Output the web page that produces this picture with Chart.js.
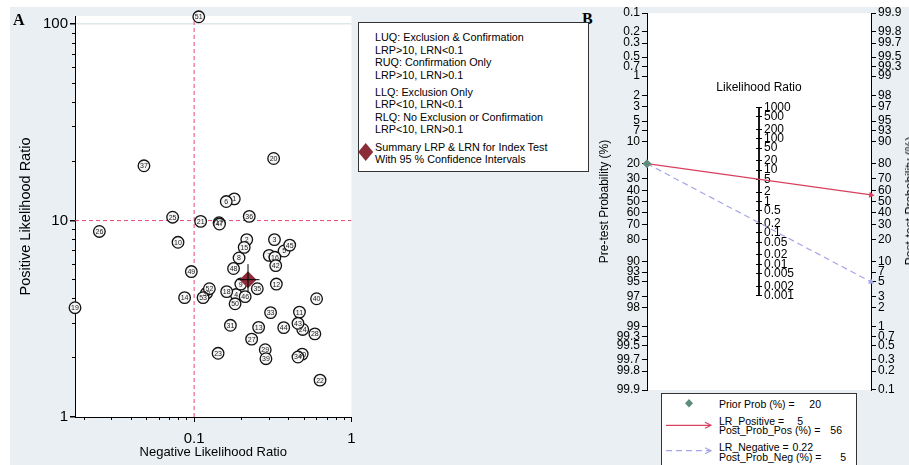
<!DOCTYPE html>
<html>
<head>
<meta charset="utf-8">
<script src="https://cdn.jsdelivr.net/npm/chart.js@4.4.1/dist/chart.umd.min.js"></script>
<style>
  html, body { margin: 0; padding: 0; }
  body { width: 909px; height: 465px; overflow: hidden; position: relative; background: #fff;
         font-family: "Liberation Sans", Arial, sans-serif; color: #000; }
  .abs { position: absolute; white-space: nowrap; }
  #bg { left: 10px; top: 7px; width: 899px; height: 458px; background: #e9eff2; }
  canvas { position: absolute; }
  .panel { font-family: "Liberation Serif", "Times New Roman", serif; font-weight: bold;
           font-size: 16px; line-height: 16px; }
  .key { position: absolute; background: #fff; border: 1px solid #333; box-sizing: border-box; }
  .key span { position: absolute; white-space: nowrap; }
  #keyA span { left: 16px; font-size: 10.8px; line-height: 13px; }
  #keyB span { font-size: 10.5px; line-height: 11px; }
</style>
</head>
<body>
<div id="bg" class="abs"></div>
<canvas id="sroc" width="350" height="458" style="left:10px;top:7px"></canvas>
<canvas id="fagan" width="314" height="458" style="left:595px;top:7px"></canvas>

<div class="abs panel" style="left:13px;top:12px">A</div>
<div class="abs panel" style="left:582px;top:11px">B</div>

<!-- quadrant key for the likelihood ratio scatter -->
<div id="keyA" class="key" style="left:358px;top:22px;width:231px;height:150px">
  <span style="top:7.5px">LUQ: Exclusion &amp; Confirmation</span>
  <span style="top:20.5px">LRP&gt;10, LRN&lt;0.1</span>
  <span style="top:33.2px">RUQ: Confirmation Only</span>
  <span style="top:45.5px">LRP&gt;10, LRN&gt;0.1</span>
  <span style="top:62.5px">LLQ: Exclusion Only</span>
  <span style="top:75.2px">LRP&lt;10, LRN&lt;0.1</span>
  <span style="top:87.8px">RLQ: No Exclusion or Confirmation</span>
  <span style="top:99.8px">LRP&lt;10, LRN&gt;0.1</span>
  <span style="top:117.5px">Summary LRP &amp; LRN for Index Test</span>
  <span style="top:129.5px">With 95 % Confidence Intervals</span>
</div>
<svg class="abs" style="left:356px;top:142px" width="20" height="20">
  <polygon points="9.7,1 17.2,10 9.7,19 2.2,10" fill="#8b2d38"/>
</svg>

<div class="abs" style="left:759px;top:87px;transform:translate(-50%,-50%);font-size:12px;line-height:14px">Likelihood Ratio</div>
<div class="abs" style="left:910px;top:201px;transform:translate(-50%,-50%) rotate(-90deg);font-size:12px;line-height:14px">Post-test Probability (%)</div>

<!-- nomogram key -->
<div id="keyB" class="key" style="left:661px;top:393px;width:196px;height:80px">
  <span style="left:57px;top:4.8px">Prior Prob (%) =</span>
  <span style="right:35px;top:4.8px">20</span>
  <span style="left:57px;top:21.5px">LR_Positive =</span>
  <span style="right:53px;top:21.5px">5</span>
  <span style="left:57px;top:30.8px">Post_Prob_Pos (%) =</span>
  <span style="right:14px;top:30.8px">56</span>
  <span style="left:57px;top:47.5px">LR_Negative =</span>
  <span style="right:43px;top:47.5px">0.22</span>
  <span style="left:57px;top:58.2px">Post_Prob_Neg (%) =</span>
  <span style="right:10px;top:58.2px">5</span>
</div>
<svg class="abs" style="left:661px;top:393px" width="60" height="72">
  <polygon points="28,6 32,10.3 28,14.6 24,10.3" fill="#5e8d7c"/>
  <line x1="5" y1="32.3" x2="49" y2="32.3" stroke="#d9405f" stroke-width="1.2"/>
  <polyline points="44,29.3 50,32.3 44,35.3" fill="none" stroke="#d9405f" stroke-width="1.2"/>
  <line x1="5" y1="57.7" x2="49" y2="57.7" stroke="#a4a4e8" stroke-width="1.2" stroke-dasharray="6,4"/>
  <polyline points="44,54.7 50,57.7 44,60.7" fill="none" stroke="#a4a4e8" stroke-width="1.2"/>
</svg>

<script>
// ---------- Panel A: positive vs negative likelihood ratio per study ----------
const STUDY_IDS = [1, 2, 3, 4, 5, 6, 7, 8, 9, 10,
                   11, 12, 13, 14, 15, 16, 17, 18, 19, 20,
                   21, 22, 23, 24, 25, 26, 27, 28, 29, 30,
                   31, 32, 33, 34, 35, 36, 37, 39, 40, 42,
                   43, 44, 45, 46, 47, 48, 49, 50, 51, 52, 53];
const STUDY_LRN = [0.18, 0.216, 0.324, 0.185, 0.373, 0.16, 0.30, 0.193, 0.198, 0.079,
                   0.467, 0.333, 0.257, 0.087, 0.208, 0.326, 0.144, 0.161, 0.0175, 0.32,
                   0.11, 0.631, 0.142, 0.49, 0.073, 0.025, 0.232, 0.585, 0.283, 0.486,
                   0.17, 0.12, 0.306, 0.457, 0.252, 0.224, 0.048, 0.286, 0.60, 0.33,
                   0.457, 0.371, 0.405, 0.211, 0.145, 0.178, 0.096, 0.182, 0.107, 0.125, 0.114];
const STUDY_LRP = [12.9, 8.0, 8.0, 4.2, 7.0, 12.5, 6.65, 6.45, 4.75, 7.75,
                   3.42, 4.75, 2.86, 4.05, 7.3, 6.5, 9.75, 4.35, 3.6, 20.7,
                   9.9, 1.54, 2.11, 2.79, 10.4, 8.8, 2.49, 2.65, 2.2, 2.09,
                   2.93, 4.27, 3.4, 2.02, 4.5, 10.5, 19.0, 1.98, 4.0, 5.9,
                   3.0, 2.85, 7.5, 4.1, 9.6, 5.7, 5.5, 3.77, 109, 4.5, 4.05];

// pooled estimate and its 95% confidence limits
const LR_POS = 5;
const LR_NEG = 0.22;
const LR_POS_CI = [4.3, 6.0];
const LR_NEG_CI = [0.19, 0.26];

// quadrant cut-offs
const CUT_LRP = 10;
const CUT_LRN = 0.1;

const LRN_RANGE = [0.0175, 1];
const LRP_RANGE = [1, 110];
const LRN_TICKS = [0.1, 1];
const LRN_MINOR = [0.02, 0.03, 0.04, 0.05, 0.06, 0.07, 0.08, 0.09,
                   0.2, 0.3, 0.4, 0.5, 0.6, 0.7, 0.8, 0.9];
const LRP_TICKS = [1, 10, 100];
const LRP_MINOR = [2, 3, 4, 5, 6, 7, 8, 9, 20, 30, 40, 50, 60, 70, 80, 90];

// ---------- Panel B: Fagan nomogram ----------
const PROB_TICKS = [0.1, 0.2, 0.3, 0.5, 0.7, 1, 2, 3, 5, 7, 10, 20, 30, 40, 50,
                    60, 70, 80, 90, 93, 95, 97, 98, 99, 99.3, 99.5, 99.7, 99.8, 99.9];
const LR_TICKS = [0.001, 0.002, 0.005, 0.01, 0.02, 0.05, 0.1, 0.2, 0.5, 1,
                  2, 5, 10, 20, 50, 100, 200, 500, 1000];
const PRIOR_PROB = 20;
const POST_PROB_POS = 56;
const POST_PROB_NEG = 5;

Chart.defaults.font.family = '"Liberation Sans", Arial, sans-serif';
Chart.defaults.color = '#000';

const plotBackground = {
  id: 'plotBackground',
  beforeDraw(chart) {
    const { ctx, chartArea: a } = chart;
    ctx.save();
    ctx.fillStyle = '#ffffff';
    ctx.fillRect(a.left, a.top, a.right - a.left, a.bottom - a.top);
    ctx.restore();
  }
};

// study numbers written inside their circles
const studyNumbers = {
  id: 'studyNumbers',
  afterDatasetDraw(chart, args) {
    if (chart.data.datasets[args.index].label !== 'Studies') return;
    const ctx = chart.ctx;
    ctx.save();
    ctx.font = '7px "Liberation Sans", Arial, sans-serif';
    ctx.fillStyle = '#222';
    ctx.textAlign = 'center';
    ctx.textBaseline = 'middle';
    args.meta.data.forEach((pt, i) => ctx.fillText(String(STUDY_IDS[i]), pt.x, pt.y + 0.5));
    ctx.restore();
  }
};

const fixSize = (prop, size) => (s) => {
  s[prop] = size;
  s.paddingTop = 0; s.paddingBottom = 0; s.paddingLeft = 0; s.paddingRight = 0;
};

new Chart(document.getElementById('sroc'), {
  type: 'scatter',
  data: {
    datasets: [
      { label: 'CI LRN', data: [{ x: LR_NEG_CI[0], y: LR_POS }, { x: LR_NEG_CI[1], y: LR_POS }],
        showLine: true, borderColor: '#000', borderWidth: 1, pointRadius: 0 },
      { label: 'CI LRP', data: [{ x: LR_NEG, y: LR_POS_CI[0] }, { x: LR_NEG, y: LR_POS_CI[1] }],
        showLine: true, borderColor: '#000', borderWidth: 1, pointRadius: 0 },
      { label: 'Summary', data: [{ x: LR_NEG, y: LR_POS }],
        pointStyle: 'rectRot', pointRadius: 8.5, backgroundColor: '#8b2d38', borderColor: '#8b2d38',
        borderWidth: 0 },
      { label: 'Studies', data: STUDY_LRN.map((v, i) => ({ x: v, y: STUDY_LRP[i] })),
        pointStyle: 'circle', pointRadius: 5.8, borderWidth: 1.3, borderColor: '#111',
        backgroundColor: '#f6f6f6', clip: false },
      { label: 'LRN cut', data: [{ x: CUT_LRN, y: LRP_RANGE[0] }, { x: CUT_LRN, y: LRP_RANGE[1] }],
        showLine: true, borderColor: '#e5486f', borderWidth: 1, borderDash: [4, 3], pointRadius: 0 },
      { label: 'LRP cut', data: [{ x: LRN_RANGE[0], y: CUT_LRP }, { x: LRN_RANGE[1], y: CUT_LRP }],
        showLine: true, borderColor: '#e5486f', borderWidth: 1, borderDash: [4, 3], pointRadius: 0 }
    ]
  },
  options: {
    responsive: false,
    animation: false,
    events: [],
    layout: { padding: { top: 9, right: 6, bottom: 0, left: 0 } },
    plugins: { legend: { display: false }, tooltip: { enabled: false } },
    scales: {
      x: {
        type: 'logarithmic', position: 'bottom', weight: 1,
        min: LRN_RANGE[0], max: LRN_RANGE[1],
        afterBuildTicks: (s) => { s.ticks = LRN_TICKS.map(v => ({ value: v })); },
        afterFit: fixSize('height', 48),
        ticks: { autoSkip: false, maxRotation: 0, font: { size: 15 }, color: '#000', padding: 8,
                 callback: (v, i) => String(LRN_TICKS[i]) },
        grid: { drawOnChartArea: false, color: '#000', tickLength: 5 },
        border: { color: '#000', width: 1 },
        title: { display: true, text: 'Negative Likelihood Ratio', font: { size: 13 }, color: '#000',
                 padding: { top: 0, bottom: 5 } }
      },
      xMinor: {
        type: 'logarithmic', position: 'bottom', weight: 0,
        min: LRN_RANGE[0], max: LRN_RANGE[1],
        afterBuildTicks: (s) => { s.ticks = LRN_MINOR.map(v => ({ value: v })); },
        afterFit: fixSize('height', 0),
        ticks: { display: false, autoSkip: false },
        grid: { drawOnChartArea: false, color: '#000', tickLength: 3 },
        border: { display: false }
      },
      y: {
        type: 'logarithmic', position: 'left', weight: 1,
        min: LRP_RANGE[0], max: LRP_RANGE[1],
        afterBuildTicks: (s) => { s.ticks = LRP_TICKS.map(v => ({ value: v })); },
        afterFit: fixSize('width', 65),
        ticks: { autoSkip: false, font: { size: 15 }, color: '#000', padding: 2,
                 callback: (v, i) => String(LRP_TICKS[i]) },
        grid: { drawOnChartArea: true, tickLength: 5, tickColor: '#000', lineWidth: 1.5,
                color: (c) => (c.tick && c.tick.value === 100 ? '#dfe7eb' : 'rgba(0,0,0,0)') },
        border: { color: '#000', width: 1 },
        title: { display: true, text: 'Positive Likelihood Ratio', font: { size: 14.5 }, color: '#000',
                 padding: { top: 7, bottom: 0 } }
      },
      yMinor: {
        type: 'logarithmic', position: 'left', weight: 0,
        min: LRP_RANGE[0], max: LRP_RANGE[1],
        afterBuildTicks: (s) => { s.ticks = LRP_MINOR.map(v => ({ value: v })); },
        afterFit: fixSize('width', 0),
        ticks: { display: false, autoSkip: false },
        grid: { drawOnChartArea: false, color: '#000', tickLength: 3 },
        border: { display: false }
      }
    }
  },
  plugins: [plotBackground, studyNumbers]
});

// ---------- Fagan nomogram ----------
// probabilities sit on a logit scale; the likelihood-ratio axis is at half the log scale
const logit = (p) => Math.log(p / (100 - p));
const V_EDGE = logit(PROB_TICKS[PROB_TICKS.length - 1]);
const lrLevel = (lr) => Math.log(lr) / 2;

// the likelihood-ratio axes are laid out with zero width and then placed on x = 0;
// the right-hand one gets room for its labels
const centreAxes = {
  id: 'centreAxes',
  afterLayout(chart) {
    const cx = chart.scales.x.getPixelForValue(0);
    const r = chart.scales.lrR, l = chart.scales.lrL;
    r.left = cx; r.right = cx + 60; r.width = 60;
    l.left = cx; l.right = cx; l.width = 0;
  }
};

function arrowRotation(ctx) {
  const pts = ctx.dataset.data;
  const xs = ctx.chart.scales.x, ys = ctx.chart.scales.pre;
  const dx = xs.getPixelForValue(pts[1].x) - xs.getPixelForValue(pts[0].x);
  const dy = ys.getPixelForValue(pts[1].y) - ys.getPixelForValue(pts[0].y);
  return 90 + Math.atan2(dy, dx) * 180 / Math.PI;
}

const vAxis = (position, weight, values, labels, extra) => Object.assign({
  type: 'linear', position, weight, min: -V_EDGE, max: V_EDGE,
  afterBuildTicks: (s) => { s.ticks = values.map(v => ({ value: v })); },
  ticks: { autoSkip: false, font: { size: 12 }, color: '#000', padding: 2,
           callback: (v, i) => labels[i] },
  grid: { drawOnChartArea: false, color: '#000', tickLength: 5, tickWidth: 1 },
  border: { color: '#000', width: 1 }
}, extra);

const priorLevel = -logit(PRIOR_PROB);

new Chart(document.getElementById('fagan'), {
  type: 'scatter',
  data: {
    datasets: [
      { label: 'Prior Prob', data: [{ x: -1, y: priorLevel }], yAxisID: 'pre',
        pointStyle: 'rectRot', pointRadius: 4.5, backgroundColor: '#5e8d7c', borderColor: '#5e8d7c',
        borderWidth: 0, clip: false },
      { label: 'LR_Positive', data: [{ x: -1, y: priorLevel }, { x: 1, y: logit(POST_PROB_POS) }],
        yAxisID: 'pre', showLine: true, borderColor: '#d9405f', borderWidth: 1.2,
        pointStyle: 'triangle', pointRadius: (c) => (c.dataIndex === 1 ? 3.5 : 0),
        pointBackgroundColor: '#d9405f', pointBorderColor: '#d9405f', pointBorderWidth: 0,
        pointRotation: arrowRotation, clip: false },
      { label: 'LR_Negative', data: [{ x: -1, y: priorLevel }, { x: 1, y: logit(POST_PROB_NEG) }],
        yAxisID: 'pre', showLine: true, borderColor: '#a4a4e8', borderWidth: 1.2, borderDash: [6, 4],
        pointStyle: 'triangle', pointRadius: (c) => (c.dataIndex === 1 ? 3.5 : 0),
        pointBackgroundColor: '#a4a4e8', pointBorderColor: '#a4a4e8', pointBorderWidth: 0,
        pointRotation: arrowRotation, clip: false },
      { label: 'Likelihood Ratio', yAxisID: 'pre',
        data: [{ x: 0, y: lrLevel(LR_TICKS[0]) }, { x: 0, y: lrLevel(LR_TICKS[LR_TICKS.length - 1]) }],
        showLine: true, borderColor: '#000', borderWidth: 1.8, pointRadius: 0 }
    ]
  },
  options: {
    responsive: false,
    animation: false,
    events: [],
    layout: { padding: { top: 6, right: 0, bottom: 75, left: 0 } },
    plugins: { legend: { display: false }, tooltip: { enabled: false } },
    scales: {
      x: { type: 'linear', display: false, min: -1, max: 1 },
      pre: vAxis('left', 1, PROB_TICKS.map(p => -logit(p)), PROB_TICKS.map(String), {
        afterFit: fixSize('width', 52),
        title: { display: true, text: 'Pre-test Probability (%)', font: { size: 12 }, color: '#000',
                 padding: { top: 2.5, bottom: 0 } }
      }),
      post: vAxis('right', 1, PROB_TICKS.map(p => logit(p)), PROB_TICKS.map(String), {
        afterFit: fixSize('width', 38)
      }),
      lrR: vAxis('right', 0, LR_TICKS.map(lrLevel), LR_TICKS.map(String), {
        afterFit: fixSize('width', 0),
        border: { display: false },
        grid: { drawOnChartArea: false, color: '#000', tickLength: 3, tickWidth: 1 }
      }),
      lrL: vAxis('left', 0, LR_TICKS.map(lrLevel), LR_TICKS.map(String), {
        afterFit: fixSize('width', 0),
        border: { display: false },
        ticks: { display: false, autoSkip: false },
        grid: { drawOnChartArea: false, color: '#000', tickLength: 3, tickWidth: 1 }
      })
    }
  },
  plugins: [plotBackground, centreAxes]
});
</script>
</body>
</html>
